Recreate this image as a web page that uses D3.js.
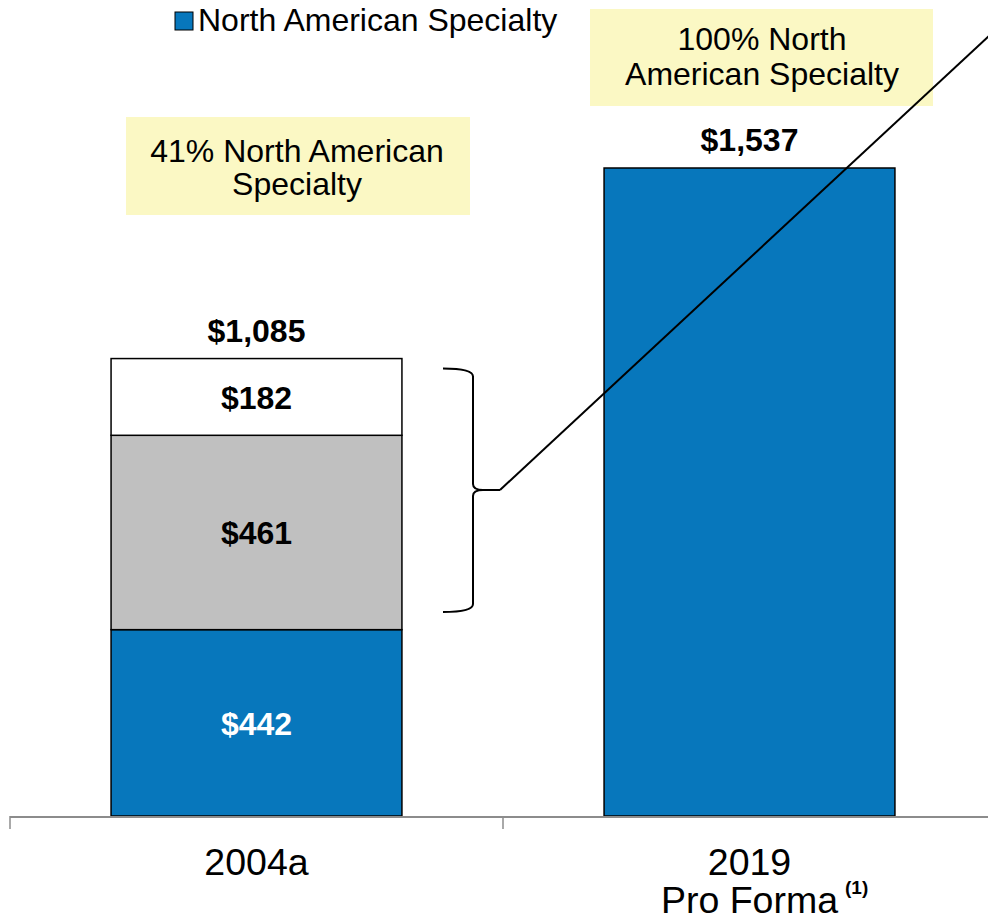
<!DOCTYPE html>
<html><head><meta charset="utf-8">
<script src="https://cdn.jsdelivr.net/npm/d3@7"></script>
<style>body{margin:0;background:#fff}svg{display:block}</style>
</head><body>
<svg id="c" width="988" height="920"></svg>
<script>
const categories = ["2004a", "2019"];
const naSpecialty = [442, 1537];
const otherMid = [461, 0];
const otherTop = [182, 0];
const totals = [1085, 1537];
const segmentLabels = [["$442", "$461", "$182"], []];
const totalLabels = ["$1,085", "$1,537"];
const legendLabel = "North American Specialty";
const callouts = [["41% North American", "Specialty"], ["100% North", "American Specialty"]];

const svg = d3.select("#c");
const font = "'Liberation Sans', Arial, sans-serif";
const blue = "#0777BC", gray = "#C0C0C0";

const x = d3.scaleBand().domain(categories).range([10, 996]).paddingInner(0.41).paddingOuter(0.205);
const y = d3.scaleLinear().domain([0, 1537]).range([816, 168]);

const rows = categories.map((c, i) => ({c, segs: [
  {v0: 0, v1: naSpecialty[i], fill: blue, lab: segmentLabels[i][0], col: "#fff"},
  {v0: naSpecialty[i], v1: naSpecialty[i] + otherMid[i], fill: gray, lab: segmentLabels[i][1], col: "#000"},
  {v0: naSpecialty[i] + otherMid[i], v1: naSpecialty[i] + otherMid[i] + otherTop[i], fill: "#fff", lab: segmentLabels[i][2], col: "#000"}
].filter(s => s.v1 > s.v0)}));

// callout boxes
const boxes = [{x: 126, y: 117, w: 344, h: 98}, {x: 590, y: 9, w: 343, h: 97}];
boxes.forEach((b, i) => {
  svg.append("rect").attr("x", b.x).attr("y", b.y).attr("width", b.w).attr("height", b.h).attr("fill", "#FBF8C4");
  const cx = i === 0 ? 297 : 762;
  svg.append("text").attr("x", cx).attr("y", i === 0 ? 162 : 50).attr("text-anchor", "middle")
    .attr("font-family", font).attr("font-size", 32).text(callouts[i][0]);
  svg.append("text").attr("x", cx).attr("y", i === 0 ? 195 : 85).attr("text-anchor", "middle")
    .attr("font-family", font).attr("font-size", 32).text(callouts[i][1]);
});

// bars
rows.forEach((r, i) => {
  r.segs.forEach(s => {
    svg.append("rect").attr("x", x(r.c)).attr("width", x.bandwidth())
      .attr("y", y(s.v1)).attr("height", y(s.v0) - y(s.v1))
      .attr("fill", s.fill).attr("stroke", "#000").attr("stroke-width", 1.5);
    if (s.lab) svg.append("text").attr("x", x(r.c) + x.bandwidth() / 2).attr("y", (y(s.v0) + y(s.v1)) / 2 + 12)
      .attr("text-anchor", "middle").attr("font-family", font).attr("font-weight", "bold")
      .attr("font-size", 32).attr("fill", s.col).text(s.lab);
  });
  svg.append("text").attr("x", x(r.c) + x.bandwidth() / 2).attr("y", y(totals[i]) - 17)
    .attr("text-anchor", "middle").attr("font-family", font).attr("font-weight", "bold")
    .attr("font-size", 32).attr("fill", "#000").text(totalLabels[i]);
});

// axis
const step = x.step();
const ticks = categories.map(c => x(c) - x.paddingInner() * step / 2).concat([x(categories[1]) + x.bandwidth() + x.paddingInner() * step / 2]);
svg.append("line").attr("x1", 10).attr("x2", 988).attr("y1", y(0) + 1).attr("y2", y(0) + 1).attr("stroke", "#8C8C8C").attr("stroke-width", 2);
ticks.forEach(t => svg.append("line").attr("x1", t).attr("x2", t).attr("y1", y(0)).attr("y2", y(0) + 13).attr("stroke", "#8C8C8C").attr("stroke-width", 1.5));
categories.forEach(c => {
  svg.append("text").attr("x", x(c) + x.bandwidth() / 2).attr("y", 875).attr("text-anchor", "middle")
    .attr("font-family", font).attr("font-size", 37.5).text(c);
});
const pcx = x(categories[1]) + x.bandwidth() / 2;
svg.append("text").attr("x", pcx).attr("y", 913).attr("text-anchor", "middle")
  .attr("font-family", font).attr("font-size", 37.5).text("Pro Forma");
svg.append("text").attr("x", 845).attr("y", 894).attr("font-family", font).attr("font-weight", "bold")
  .attr("font-size", 19).text("(1)");

// legend
svg.append("rect").attr("x", 175).attr("y", 12).attr("width", 18).attr("height", 18).attr("fill", blue).attr("stroke", "#000").attr("stroke-width", 1);
svg.append("text").attr("x", 198).attr("y", 31).attr("font-family", font).attr("font-size", 32).text(legendLabel);

// bracket + pointer line
const yTop = y(totals[0]) + 10, yBot = y(0) - 204, yMid = 490;
const bx = 473;
svg.append("path").attr("fill", "none").attr("stroke", "#000").attr("stroke-width", 2)
  .attr("d", `M443,${yTop} Q${bx},${yTop} ${bx},${yTop + 8} L${bx},${yMid - 6} Q${bx},${yMid} ${bx + 10},${yMid} L500,${yMid} M${bx + 10},${yMid} Q${bx},${yMid} ${bx},${yMid + 6} L${bx},${yBot - 8} Q${bx},${yBot} 443,${yBot}`);
svg.append("line").attr("x1", 500).attr("y1", yMid).attr("x2", 990).attr("y2", 35).attr("stroke", "#000").attr("stroke-width", 2);
</script>
</body></html>
